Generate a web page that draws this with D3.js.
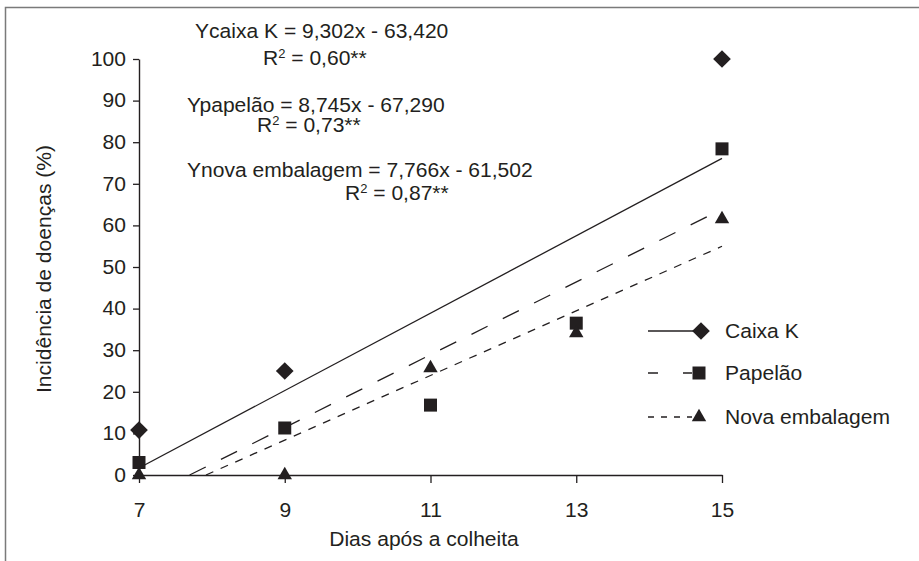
<!DOCTYPE html>
<html>
<head>
<meta charset="utf-8">
<script src="https://cdn.jsdelivr.net/npm/d3@7"></script>
<style>
  body { margin: 0; background: #fff; }
  text { font-family: "Liberation Sans", Arial, sans-serif; fill: #231f20; }
</style>
</head>
<body>
<div id="chart"></div>
<script>
// Data
const days = [7, 9, 11, 13, 15];
const caixaK = [10.8, 25, null, null, 100];
const papelao = [3, 11.3, 16.8, 36.5, 78.4];
const novaEmbalagem = [0, 0, 25.7, 34.1, 61.5];

const seriesNames = ['Caixa K', 'Papelão', 'Nova embalagem'];
const slopes = [9.302, 8.745, 7.766];
const intercepts = [-63.42, -67.29, -61.502];
const equations = ['Ycaixa K = 9,302x - 63,420', 'Ypapelão = 8,745x - 67,290', 'Ynova embalagem = 7,766x - 61,502'];
const r2Values = [' = 0,60**', ' = 0,73**', ' = 0,87**'];
const yTicks = [0, 10, 20, 30, 40, 50, 60, 70, 80, 90, 100];

const width = 919, height = 561;
const ink = '#231f20';
const fontSize = 19.5;
const sx = 1.08; // text is a bit wide in the original

const svg = d3.select('#chart').append('svg')
  .attr('width', width)
  .attr('height', height);

// outer frame (only left and top show)
svg.append('rect')
  .attr('x', 5.5).attr('y', 7.5)
  .attr('width', 1000).attr('height', 1000)
  .attr('fill', 'none')
  .attr('stroke', '#7a7a7a')
  .attr('stroke-width', 1.5);

const x = d3.scaleLinear().domain([7, 15]).range([139, 722]);
const y = d3.scaleLinear().domain([0, 100]).range([475, 59]);

// axes
const yAxis = svg.append('g')
  .attr('transform', 'translate(139,0)')
  .call(d3.axisLeft(y).tickValues(yTicks).tickSize(6).tickPadding(9).tickSizeOuter(0));
const xAxis = svg.append('g')
  .attr('transform', 'translate(0,475)')
  .call(d3.axisBottom(x).tickValues(days).tickSize(8).tickPadding(20).tickSizeOuter(0));

[yAxis, xAxis].forEach(function (ax) {
  ax.select('.domain').attr('stroke', ink).attr('stroke-width', 1.4);
  ax.selectAll('.tick line').attr('stroke', ink).attr('stroke-width', 1.3);
  ax.selectAll('.tick text')
    .attr('font-size', fontSize)
    .attr('fill', ink)
    .style('font-family', '"Liberation Sans", Arial, sans-serif');
});
yAxis.selectAll('.tick text').attr('transform', 'scale(' + sx + ',1)').attr('x', -13 / sx);
xAxis.selectAll('.tick text').attr('transform', 'scale(' + sx + ',1)');

function addText(px, py, str, anchor) {
  return svg.append('text')
    .attr('transform', 'translate(' + px + ',' + py + ') scale(' + sx + ',1)')
    .attr('font-size', fontSize)
    .attr('text-anchor', anchor || 'start')
    .text(str);
}

// axis titles
addText(424, 546, 'Dias após a colheita', 'middle');
svg.append('text')
  .attr('transform', 'translate(51,269) rotate(-90) scale(' + sx + ',1)')
  .attr('font-size', fontSize)
  .attr('text-anchor', 'middle')
  .text('Incidência de doenças (%)');

// regression lines
const dashes = [null, '18,17', '8,8'];
seriesNames.forEach(function (name, i) {
  const x0 = Math.max(7, -intercepts[i] / slopes[i]);
  const pts = [x0, 15].map(function (d) { return [d, slopes[i] * d + intercepts[i]]; });
  svg.append('path')
    .attr('d', d3.line().x(function (d) { return x(d[0]); }).y(function (d) { return y(d[1]); })(pts))
    .attr('fill', 'none')
    .attr('stroke', ink)
    .attr('stroke-width', 1.3)
    .attr('stroke-dasharray', dashes[i]);
});

// markers
const symbols = [
  d3.symbol().type(d3.symbolDiamond2).size(200),
  d3.symbol().type(d3.symbolSquare).size(169),
  d3.symbol().type(d3.symbolTriangle).size(90)
];
const seriesValues = [caixaK, papelao, novaEmbalagem];
seriesValues.forEach(function (vals, i) {
  svg.append('g').selectAll('path')
    .data(days.map(function (d, j) { return { x: d, y: vals[j] }; }).filter(function (d) { return d.y !== null; }))
    .join('path')
    .attr('d', symbols[i])
    .attr('transform', function (d) { return 'translate(' + x(d.x) + ',' + y(d.y) + ')'; })
    .attr('fill', ink);
});

// equations
const eqPos = [[195, 38], [187, 112], [187, 177]];
const r2Pos = [[263, 65], [257, 132], [345, 200]];
equations.forEach(function (eq, i) {
  addText(eqPos[i][0], eqPos[i][1], eq);
  const t = svg.append('text')
    .attr('transform', 'translate(' + r2Pos[i][0] + ',' + r2Pos[i][1] + ') scale(' + sx + ',1)')
    .attr('font-size', fontSize);
  t.append('tspan').text('R');
  t.append('tspan').attr('font-size', 12).attr('dy', -7).text('2');
  t.append('tspan').attr('dy', 7).text(r2Values[i]);
});

// legend
const legendY = [331, 373, 417];
const legendEnd = [700, 692, 692];
const legendDash = [null, '10,25', '6,7'];
seriesNames.forEach(function (name, i) {
  svg.append('line')
    .attr('x1', 648).attr('x2', legendEnd[i])
    .attr('y1', legendY[i]).attr('y2', legendY[i])
    .attr('stroke', ink)
    .attr('stroke-width', 1.3)
    .attr('stroke-dasharray', legendDash[i]);
  svg.append('path')
    .attr('d', symbols[i])
    .attr('transform', 'translate(' + (i === 0 ? 701 : 699) + ',' + legendY[i] + ')')
    .attr('fill', ink);
  addText(725, legendY[i] + 7, name);
});
</script>
</body>
</html>
